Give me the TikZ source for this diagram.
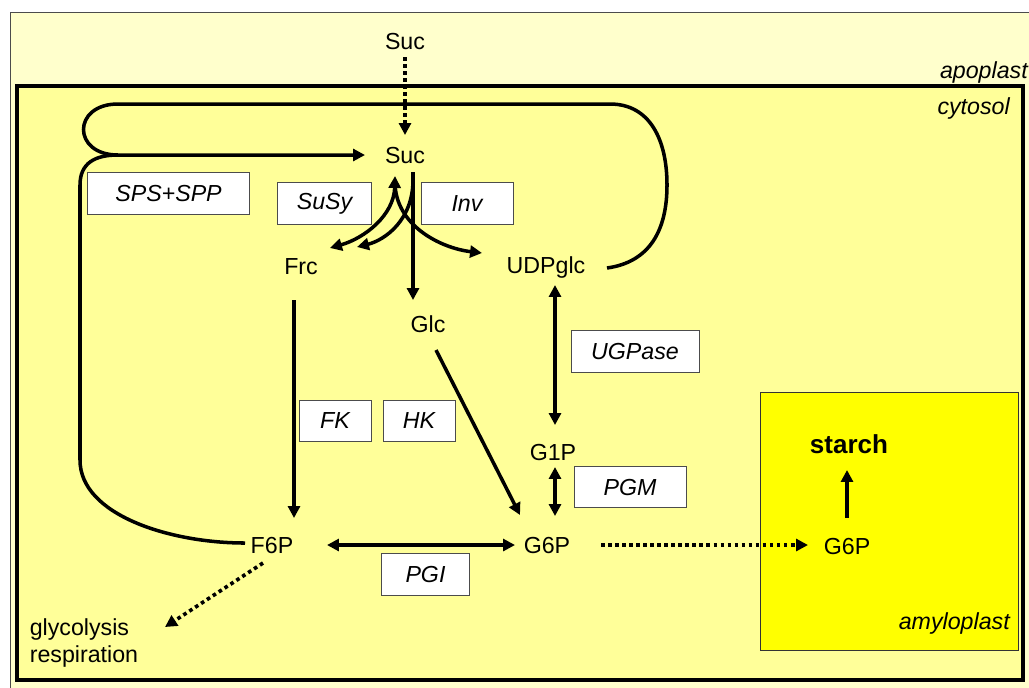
\documentclass[tikz,border=0pt]{standalone}
\usepackage{fontspec}
\setmainfont{Liberation Sans}
\usetikzlibrary{arrows.meta,calc}
\definecolor{apoyel}{HTML}{FFFFCC}
\definecolor{cytyel}{HTML}{FFFF99}
\definecolor{amyyel}{HTML}{FFFF00}
\tikzset{
  >={Triangle[length=8.5pt,width=8.5pt]},
  met/.style={inner sep=0pt,font=\fontsize{16.5}{19}\selectfont},
  lbl/.style={met,anchor=east,font=\fontsize{16.5}{19}\selectfont\itshape},
  enzbox/.style={rectangle,draw=black!70,line width=0.6pt,fill=white,
                 minimum height=1.03cm,inner sep=0pt,
                 font=\fontsize{16.5}{19}\selectfont\itshape},
  arr/.style={->,line width=2.5pt},
  darr/.style={<->,line width=2.5pt},
  dotarr/.style={->,line width=2.6pt,dash pattern=on 2.6pt off 2.4pt},
  loopline/.style={line width=2.5pt},
}
\begin{document}
\begin{tikzpicture}[x=0.025cm,y=-0.025cm]
    \useasboundingbox (0,0) rectangle (1029,687);

    % compartments
    \draw[fill=apoyel,draw=black!70,line width=0.6pt] (10,12) rectangle (1040,700);
    \draw[fill=cytyel,line width=2.4pt] (17,86) rectangle (1023,680);
    \draw[fill=amyyel,draw=black!80,line width=0.7pt] (760,392) rectangle (1018,650);
    \node[lbl] (apoLbl) at (1028,72)  {apoplast};
    \node[lbl] (cytLbl) at (1010,108) {cytosol};
    \node[lbl] (amyLbl) at (1010,623) {amyloplast};

    % metabolites
    \node[met] (sucA)   at (405,42)  {Suc};
    \node[met] (suc)    at (405,156) {Suc};
    \node[met] (frc)    at (301,267) {Frc};
    \node[met] (udpglc) at (546,267) {UDPglc};
    \node[met] (glc)    at (428,324) {Glc};
    \node[met] (g1p)    at (553,452) {G1P};
    \node[met] (g6p)    at (547,545) {G6P};
    \node[met] (f6p)    at (272,545) {F6P};
    \node[met] (g6pAmy) at (847,546) {G6P};
    \node[met,font=\fontsize{18.5}{21}\selectfont\bfseries] (starch) at (849,444) {starch};
    \node[met,align=left] (glyc) at (84,643) {glycolysis\\respiration};

    % enzymes
    \node[enzbox,minimum width=4.03cm] (spsspp) at (168.5,193.5) {SPS+SPP};
    \node[enzbox,minimum width=2.33cm] (susy)   at (324.5,203.5) {SuSy};
    \node[enzbox,minimum width=2.30cm] (inv)    at (467,203.5)   {Inv};
    \node[enzbox,minimum width=3.20cm] (ugpase) at (635,351.5)   {UGPase};
    \node[enzbox,minimum width=1.80cm] (fk)     at (335,421)     {FK};
    \node[enzbox,minimum width=1.80cm] (hk)     at (419,421)     {HK};
    \node[enzbox,minimum width=2.18cm] (pgi)    at (425.5,574.5) {PGI};
    \node[enzbox,minimum width=2.80cm] (pgm)    at (630,487)     {PGM};

    % synthesis loop
    \coordinate (merge) at (118,155);
    \draw[loopline,->] ($(udpglc)+(61,1)$) .. controls (650,262) and (667,230) .. (667,185)
        .. controls (667,140) and (650,104) .. (610,104) -- (118,104)
        .. controls (72,104) and (72,155) .. (merge) -- ($(suc)+(-40,-1)$);
    \draw[loopline] ($(f6p)+(-27,-2)$) .. controls (170,543) and (80,515) .. (80,460)
        -- (80,185) .. controls (80,163) and (95,155) .. (merge);

    % sucrose cleavage
    \draw[dotarr] ($(sucA)+(0,15)$) -- ($(suc)+(0,-21)$);
    \draw[darr] ($(frc)+(29,-19)$) .. controls (365,238) and (394,215) .. ($(suc)+(-10,20)$);
    \draw[arr] ($(suc)+(-10,26)$) .. controls (395,225) and (440,248) .. ($(udpglc)+(-64,-14)$);
    \draw[arr] ($(suc)+(8,16)$) -- ($(glc)+(-15,-24)$);
    \draw[arr] ($(suc)+(8,24)$) .. controls (413,220) and (385,240) .. ($(frc)+(56,-20)$);

    % hexose phosphates
    \draw[arr] ($(frc)+(-7,33)$) -- ($(f6p)+(22,-27)$);
    \draw[arr] ($(glc)+(8,26)$) -- ($(g6p)+(-27,-30)$);
    \draw[darr] ($(udpglc)+(9,18)$) -- ($(g1p)+(2,-27)$);
    \draw[darr] ($(g1p)+(2,15)$) -- ($(g6p)+(8,-29)$);
    \draw[darr] ($(f6p)+(55,0)$) -- ($(g6p)+(-32,0)$);
    \draw[dotarr] ($(g6p)+(54,0)$) -- ($(g6pAmy)+(-39,-1)$);
    \draw[arr] ($(g6pAmy)+(0,-28)$) -- ($(starch)+(-2,26)$);
    \draw[dotarr] ($(f6p)+(-9,18)$) -- ($(glyc)+(81,-16)$);
\end{tikzpicture}
\end{document}
